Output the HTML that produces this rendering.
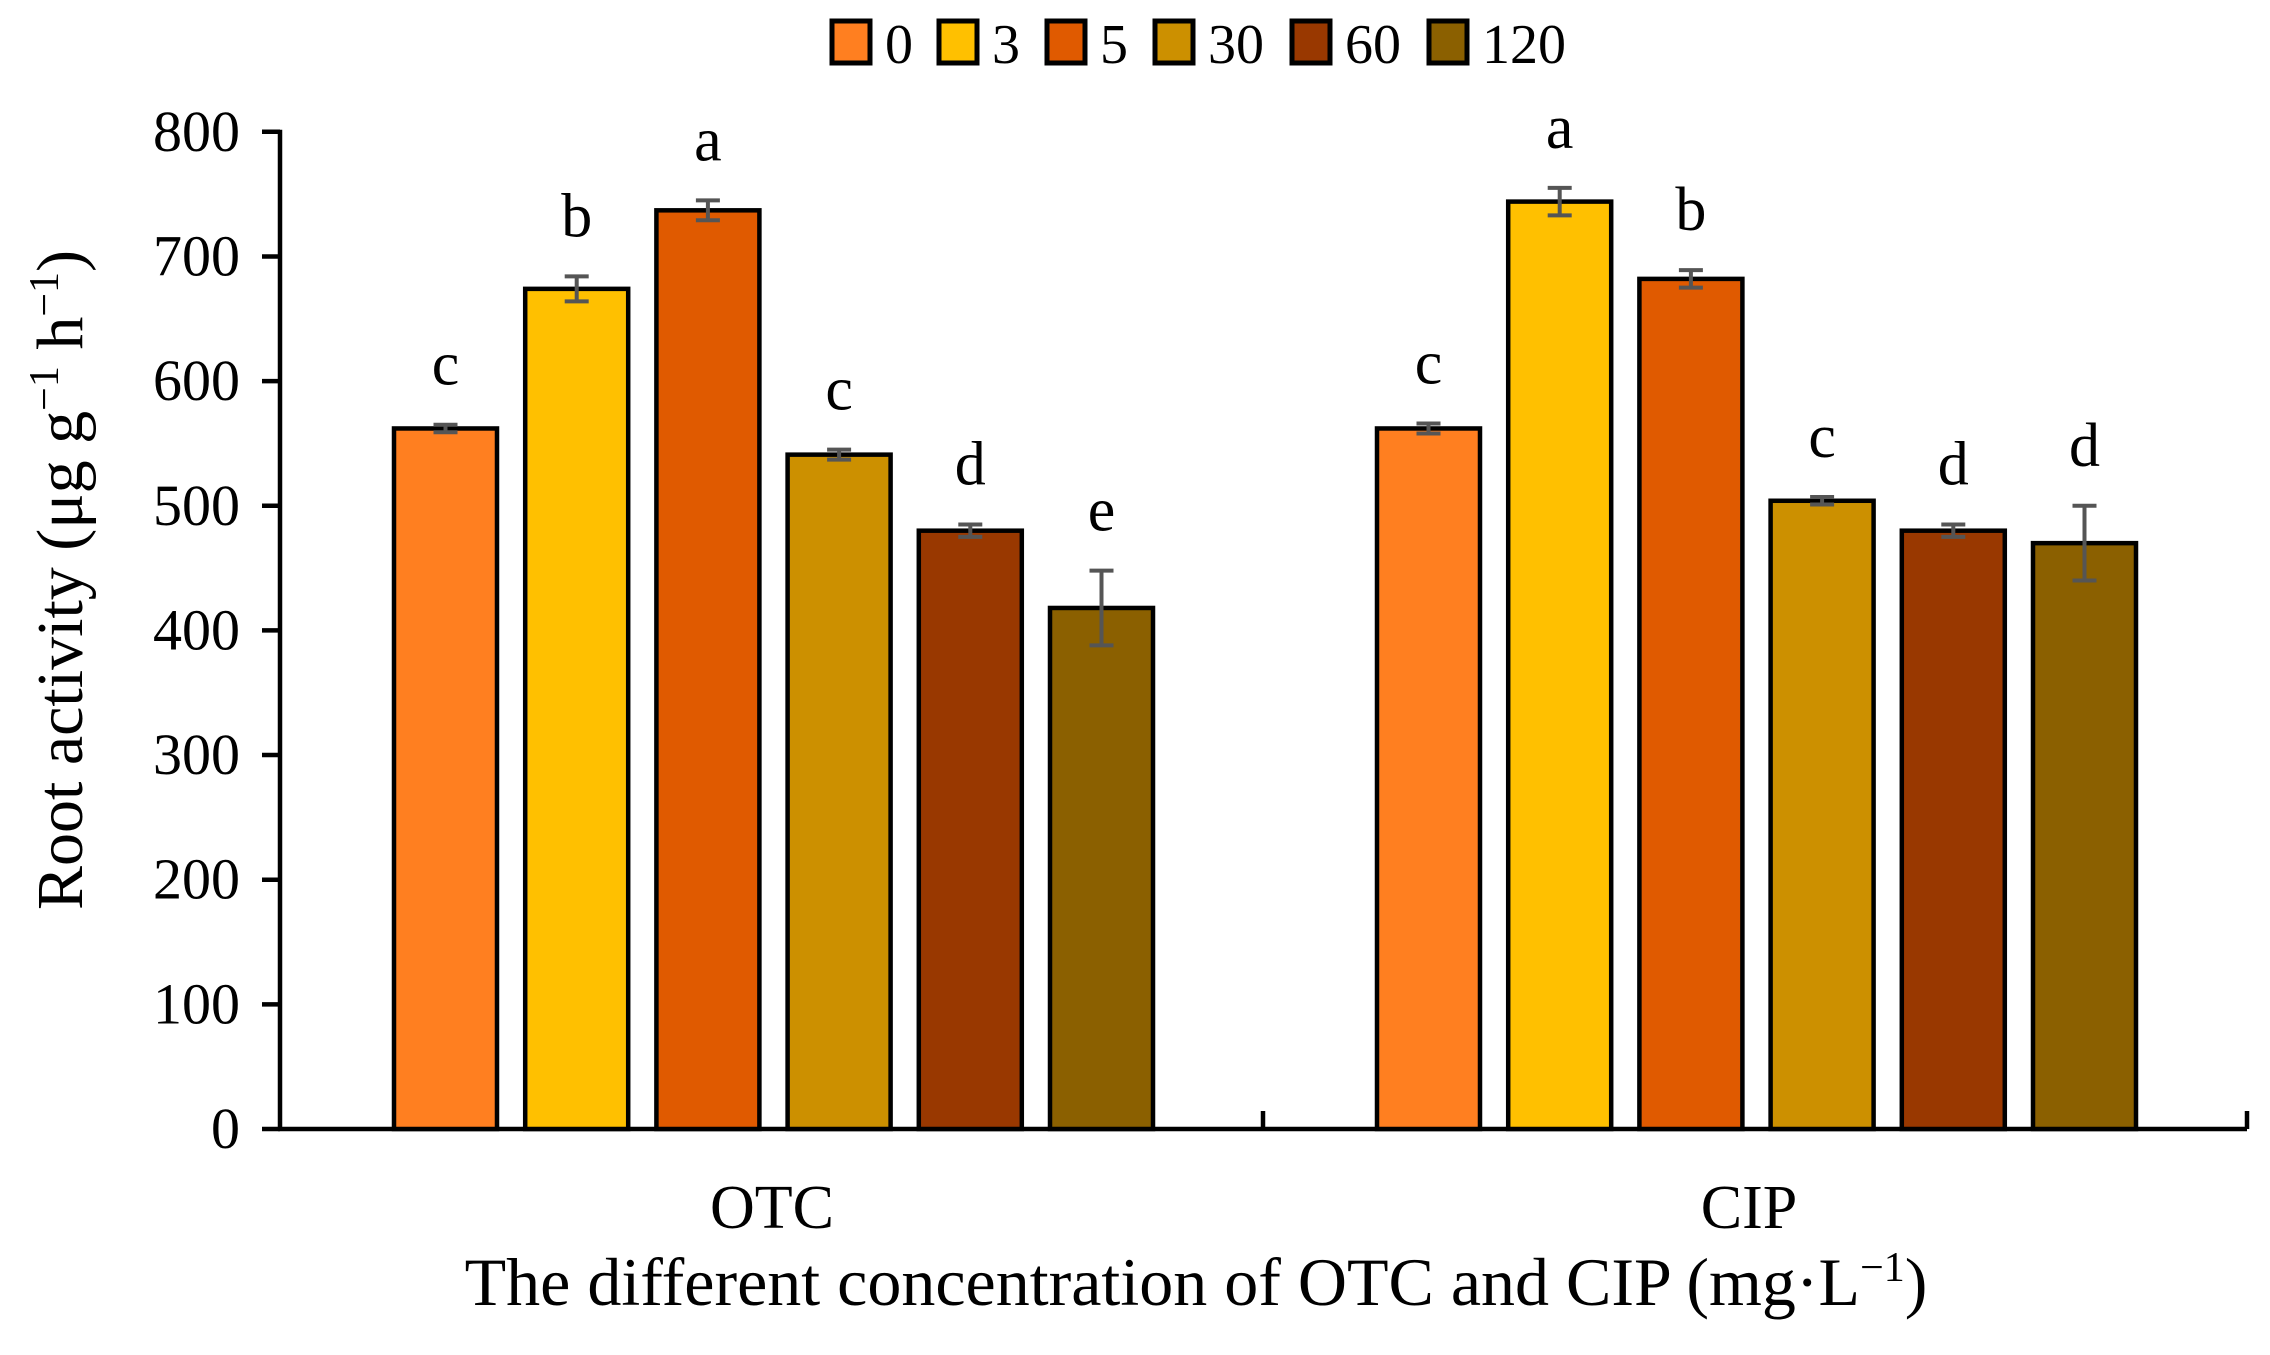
<!DOCTYPE html>
<html><head><meta charset="utf-8"><style>
html,body{margin:0;padding:0;background:#fff;}
svg text{font-family:"Liberation Serif",serif;fill:#000;}
</style></head><body>
<svg id="chart" width="2270" height="1350" viewBox="0 0 2270 1350" xmlns="http://www.w3.org/2000/svg">
<g id="legend"></g>
<g id="axes"></g>
<g id="bars"></g>
<text x="82" y="580" font-size="66" text-anchor="middle" transform="rotate(-90 82 580)">Root activity (μg g<tspan font-size="42" dy="-24">−1</tspan><tspan dy="24"> h</tspan><tspan font-size="42" dy="-24">−1</tspan><tspan dy="24">)</tspan></text>
<text x="1196" y="1305" font-size="68" text-anchor="middle">The different concentration of OTC and CIP (mg·L<tspan font-size="42" dy="-24">−1</tspan><tspan dy="24">)</tspan></text>
</svg>
<script>
const categories = ["OTC", "CIP"];
const seriesNames = ["0", "3", "5", "30", "60", "120"];
const otcValues = [562, 674, 737, 541, 480, 418];
const cipValues = [562, 744, 682, 504, 480, 470];
const otcErrors = [3, 10, 8, 4, 5, 30];
const cipErrors = [4, 11, 7, 3, 5, 30];
const otcLetters = ["c", "b", "a", "c", "d", "e"];
const cipLetters = ["c", "a", "b", "c", "d", "d"];
const yTicks = [0, 100, 200, 300, 400, 500, 600, 700, 800];
const colors = ["#FF7F20", "#FFC000", "#E05A00", "#CC9000", "#993800", "#8B6000"];

const NS = "http://www.w3.org/2000/svg";
const X0 = 280, X1 = 2247, Y0 = 1129, YTOP = 131.8, YMAX = 800;
function yScale(v){ return Y0 - (v / YMAX) * (Y0 - YTOP); }
const groupStart = [394, 1377], pitch = 131.2, barW = 103;
function xScale(g, i){ return groupStart[g] + i * pitch; }
function mk(tag, attrs, parent){
  const el = document.createElementNS(NS, tag);
  for (const k in attrs) el.setAttribute(k, attrs[k]);
  parent.appendChild(el);
  return el;
}
const axes = document.getElementById('axes');
const bars = document.getElementById('bars');
const legend = document.getElementById('legend');

let yl = mk('line', {x1:X0, y1:YTOP-2, x2:X0, y2:Y0+2, stroke:'#000','stroke-width':4.5}, axes);


yTicks.forEach(t => {
  const y = yScale(t);
  const tk = mk('line', {x1:X0-18, y1:y, x2:X0, y2:y, stroke:'#000','stroke-width':4.5}, axes);
  
  
  const lb = mk('text', {x:X0-40, y:y+19, 'font-size':58, 'text-anchor':'end'}, axes);
  lb.textContent = t;
  
  
});
let xl = mk('line', {x1:X0-2, y1:Y0, x2:X1, y2:Y0, stroke:'#000','stroke-width':4.5}, axes);


[1263, X1].forEach(x => {
  const tk = mk('line', {x1:x, y1:Y0, x2:x, y2:Y0-18, stroke:'#000','stroke-width':4.5}, axes);
  
  
});
const catX = [772, 1749];
categories.forEach((c, g) => {
  const lb = mk('text', {x:catX[g], y:1228, 'font-size':62, 'text-anchor':'middle'}, axes);
  lb.textContent = c;
  
  
});

const vals = [otcValues, cipValues], errs = [otcErrors, cipErrors], lets = [otcLetters, cipLetters];
vals.forEach((arr, g) => {
  arr.forEach((v, i) => {
    const x = xScale(g, i), y = yScale(v);
    const r = mk('rect', {x:x, y:y, width:barW, height:Y0 - y, fill:colors[i], stroke:'#000','stroke-width':4.5}, bars);
    
    
    const cx = x + barW / 2, e = errs[g][i];
    const yt = yScale(v + e), yb = yScale(v - e);
    const eb = mk('path', {d:`M${cx},${yt}V${yb}M${cx-12},${yt}H${cx+12}M${cx-12},${yb}H${cx+12}`, stroke:'#555','stroke-width':4, fill:'none'}, bars);
    
    
    const lt = mk('text', {x:cx, y:yt - 40, 'font-size':62, 'text-anchor':'middle'}, bars);
    lt.textContent = lets[g][i];
    
    
  });
});

const legX = [830, 937, 1045, 1153, 1290, 1427];
seriesNames.forEach((s, i) => {
  const sq = mk('rect', {x:legX[i]+2, y:21, width:38, height:42, fill:colors[i], stroke:'#000','stroke-width':5}, legend);
  
  
  const t = mk('text', {x:legX[i]+55, y:63, 'font-size':56}, legend);
  t.textContent = s;
  
  
});
</script>
</body></html>
